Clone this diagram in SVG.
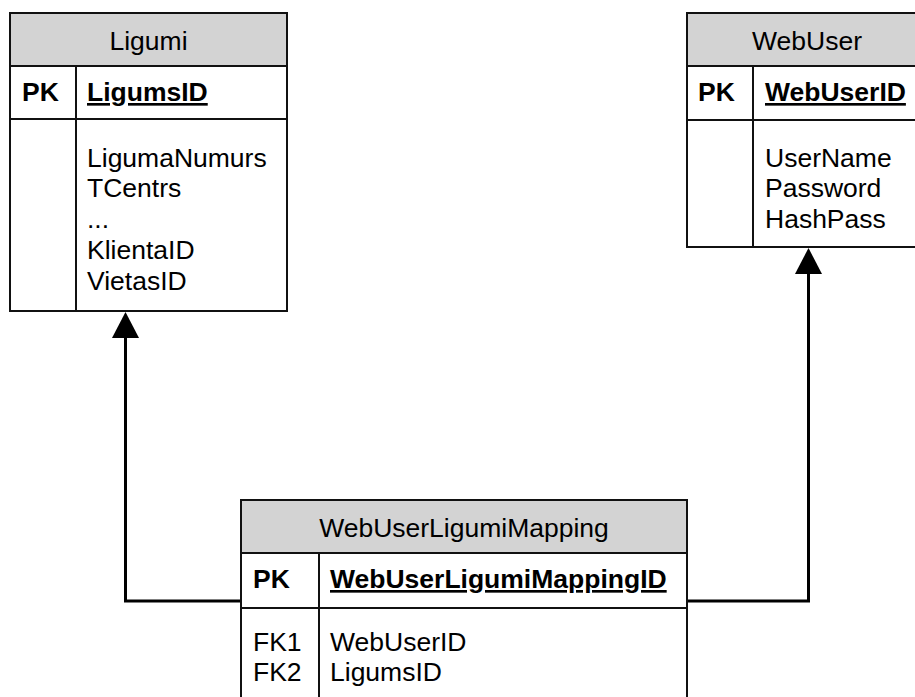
<svg xmlns="http://www.w3.org/2000/svg" width="915" height="697" viewBox="0 0 915 697">
  <style>
    .box { fill: #ffffff; stroke: #111111; stroke-width: 2; }
    .head { fill: #d3d3d3; stroke: #111111; stroke-width: 2; }
    .rule { stroke: #111111; stroke-width: 2; fill: none; }
    .title { font-family: "Liberation Sans", Arial, sans-serif; font-size: 26.5px; fill: #000000; text-anchor: middle; }
    .key { font-family: "Liberation Sans", Arial, sans-serif; font-size: 26.5px; font-weight: bold; fill: #000000; }
    .pk { font-family: "Liberation Sans", Arial, sans-serif; font-size: 26.5px; font-weight: bold; fill: #000000; text-decoration: underline; }
    .field { font-family: "Liberation Sans", Arial, sans-serif; font-size: 26.5px; fill: #000000; }
    .link { stroke: #000000; stroke-width: 3; fill: none; }
  </style>
  <defs>
    <marker id="arrow" markerUnits="userSpaceOnUse" markerWidth="28" markerHeight="28" refX="0" refY="13.5" orient="auto" overflow="visible">
      <path d="M0,0 L26,13.5 L0,27 Z" fill="#000000"/>
    </marker>
  </defs>

  <rect width="915" height="697" fill="#ffffff"/>

  <!-- connectors -->
  <g id="connectors">
    <path class="link" d="M241,601 H125.5 V338" marker-end="url(#arrow)"/>
    <path class="link" d="M687,601 H808.5 V274" marker-end="url(#arrow)"/>
  </g>

  <!-- Ligumi table -->
  <g id="ligumi">
    <rect class="box" x="10" y="13" width="277" height="298"/>
    <rect class="head" x="10" y="13" width="277" height="53"/>
    <line class="rule" x1="10" y1="119" x2="287" y2="119"/>
    <line class="rule" x1="76" y1="66" x2="76" y2="311"/>
    <text class="title" x="148.5" y="49.5">Ligumi</text>
    <text class="key" x="22" y="101">PK</text>
    <text class="pk" x="87" y="101">LigumsID</text>
    <text class="field" x="87" y="166.5">LigumaNumurs</text>
    <text class="field" x="87" y="197.3">TCentrs</text>
    <text class="field" x="87" y="228.1">...</text>
    <text class="field" x="87" y="258.9">KlientaID</text>
    <text class="field" x="87" y="289.7">VietasID</text>
  </g>

  <!-- WebUser table -->
  <g id="webuser">
    <rect class="box" x="687" y="13" width="240" height="234"/>
    <rect class="head" x="687" y="13" width="240" height="53"/>
    <line class="rule" x1="687" y1="120" x2="927" y2="120"/>
    <line class="rule" x1="753" y1="66" x2="753" y2="247"/>
    <text class="title" x="807" y="49.5">WebUser</text>
    <text class="key" x="698" y="101">PK</text>
    <text class="pk" x="765" y="101">WebUserID</text>
    <text class="field" x="765" y="166.5">UserName</text>
    <text class="field" x="765" y="197.3">Password</text>
    <text class="field" x="765" y="228.1">HashPass</text>
  </g>

  <!-- WebUserLigumiMapping table -->
  <g id="webuserligumimapping">
    <rect class="box" x="241" y="500" width="446" height="210"/>
    <rect class="head" x="241" y="500" width="446" height="53"/>
    <line class="rule" x1="241" y1="608" x2="687" y2="608"/>
    <line class="rule" x1="319" y1="553" x2="319" y2="710"/>
    <text class="title" x="464" y="536.5">WebUserLigumiMapping</text>
    <text class="key" x="253" y="588">PK</text>
    <text class="pk" x="330" y="588">WebUserLigumiMappingID</text>
    <text class="field" x="253" y="650.5">FK1</text>
    <text class="field" x="330" y="650.5">WebUserID</text>
    <text class="field" x="253" y="680.5">FK2</text>
    <text class="field" x="330" y="680.5">LigumsID</text>
  </g>
</svg>
